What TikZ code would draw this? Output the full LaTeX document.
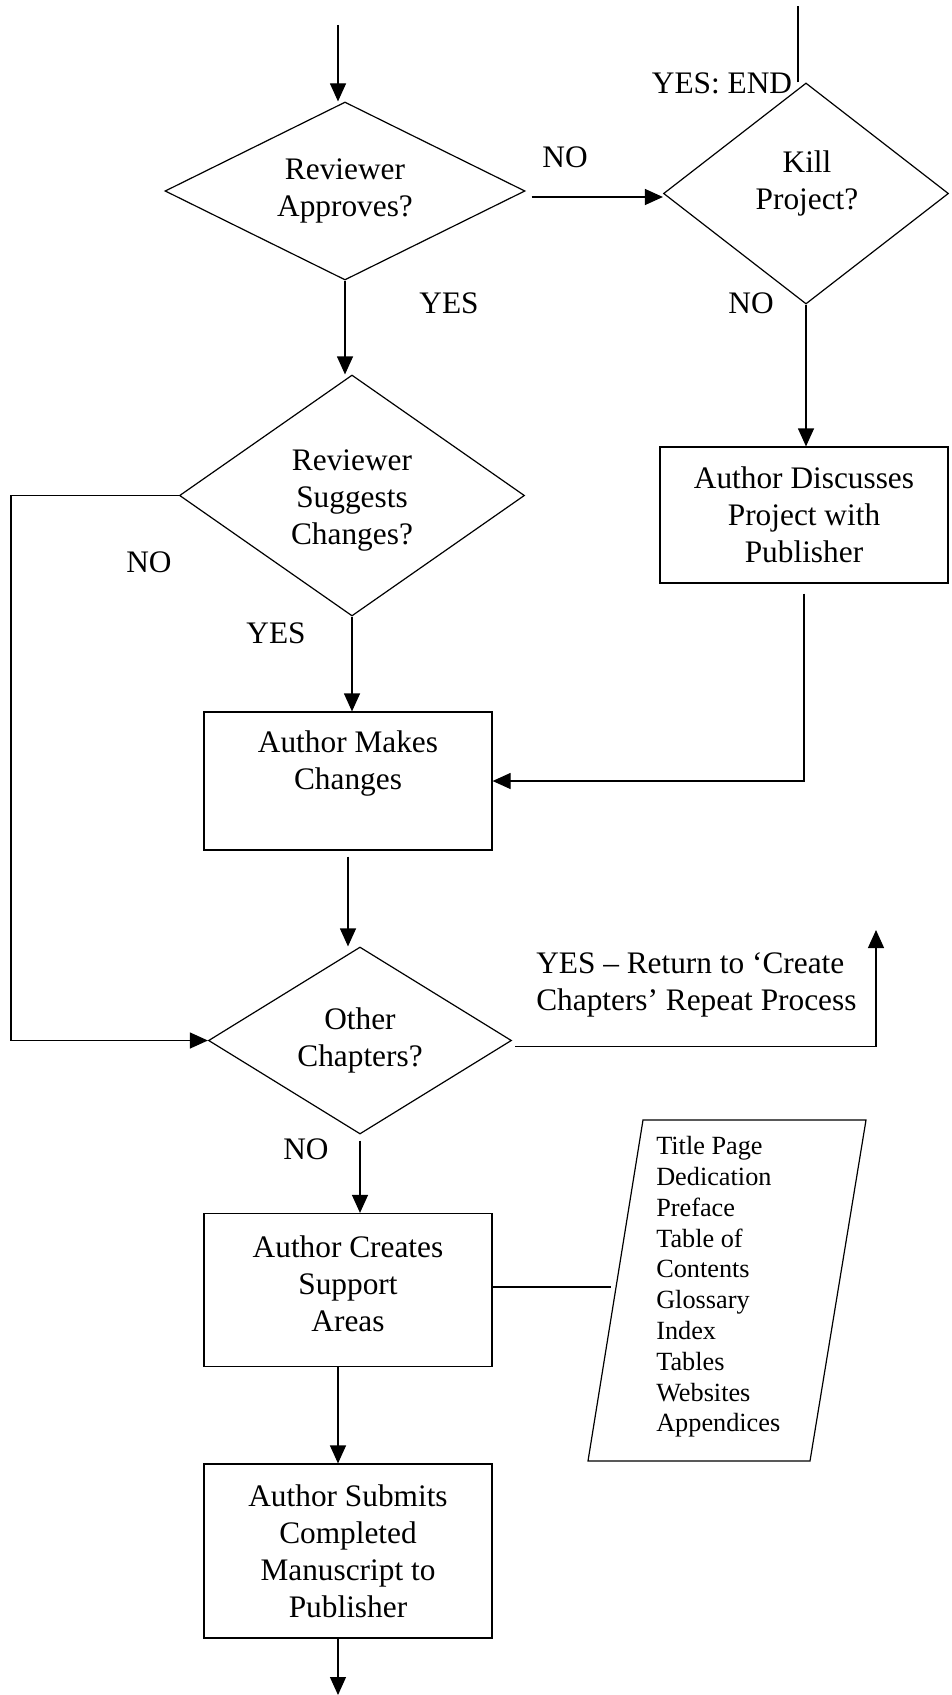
\documentclass[tikz,border=0pt]{standalone}
\usepackage{fontspec}
\setmainfont{Liberation Serif}
\usetikzlibrary{shapes.geometric,arrows.meta,calc}
\newcommand\mainfnt{\fontsize{23.5}{27.75}\selectfont}
\newcommand\listfnt{\fontsize{19.7}{23.1}\selectfont}
\begin{document}
\begin{tikzpicture}[x=0.75pt,y=-0.75pt,
  every node/.style={font=\mainfnt},
  decision/.style={draw, diamond, inner sep=0pt, align=center, line width=0.9pt},
  procbox/.style={draw, rectangle, inner sep=0pt, align=center, minimum width=216pt, line width=0.9pt},
  flowarrow/.style={line width=0.9pt, -{Triangle[length=13.5pt,width=12pt]}},
  plainline/.style={line width=0.9pt},
  tag/.style={inner sep=0pt}]
\useasboundingbox (0,0) rectangle (951,1695);

% decisions
\node[decision, aspect=2, minimum width=270pt, minimum height=133.5pt] (A) at (345,191) {Reviewer\\Approves?};
\node[decision, aspect=1.3, minimum width=213.75pt, minimum height=165.75pt] (K) at (806,193.5) {};
\node[tag, align=center] (Ktext) at (807,183.5) {Kill\\Project?};
\node[decision, aspect=1.4, minimum width=258.75pt, minimum height=180.75pt] (S) at (352,495.5) {};
\node[tag, align=center] (Stext) at (352,501) {Reviewer\\Suggests\\Changes?};
\node[decision, aspect=1.6, minimum width=227.25pt, minimum height=140.25pt] (O) at (360,1040.5) {Other\\Chapters?};

% process boxes
\node[procbox, minimum height=102pt] (D) at (804,515) {Author Discusses\\Project with\\Publisher};
\node[procbox, minimum height=103.5pt] (M) at (348,781) {};
\node[tag, align=center] (Mtext) at (348,764) {Author Makes\\Changes};
\node[procbox, minimum height=114.75pt] (C) at (348,1290) {};
\node[tag, align=center] (Ctext) at (348,1283.5) {Author Creates\\Support\\Areas};
\node[procbox, minimum height=130.5pt] (B) at (348,1551) {Author Submits\\Completed\\Manuscript to\\Publisher};

% parallelogram with list
\draw[plainline] (643,1120) -- (866,1120) -- (810,1461) -- (588,1461) -- cycle;
\node[tag, align=left, anchor=west, font=\listfnt] (list) at (656,1287)
  {Title Page\\Dedication\\Preface\\Table of\\Contents\\Glossary\\Index\\Tables\\Websites\\Appendices};
\coordinate (P) at (611,1287);
\draw[plainline] (C.east |- P) -- (P);

% connectors
\coordinate (start) at (338,25);
\draw[flowarrow] (start) -- (start |- A.north);
\coordinate (endtop) at (798,6);
\draw[plainline] (endtop |- K.north) -- (endtop);
\draw[flowarrow] (A.east) ++(6,6) coordinate (a1) -- (a1 -| K.west);
\draw[flowarrow] (A.south) -- (A.south |- S.north);
\draw[flowarrow] (K.south) -- (K.south |- D.north);
\coordinate (L) at (11,0);
\draw[flowarrow] (S.west) -- (S.west -| L) -- (L |- O.west) -- (O.west);
\draw[flowarrow] (S.south) -- (S.south |- M.north);
\draw[flowarrow] (D.south) ++(0,10) -- (D.south |- M.east) -- (M.east);
\draw[flowarrow] (M.south) ++(0,6) -- (M.south |- O.north);
\coordinate (ret) at (876,930);
\draw[flowarrow] (O.east) ++(3,6) -| (ret);
\draw[flowarrow] (O.south) ++(0,6) -- (O.south |- C.north);
\coordinate (cx) at (338,0);
\draw[flowarrow] (C.south -| cx) -- (cx |- B.north);
\coordinate (bot) at (338,1695);
\draw[flowarrow] (B.south -| bot) -- (bot);

% labels
\node[tag] (l1) at (565,157) {NO};
\node[tag] (l2) at (449,303) {YES};
\node[tag] (l3) at (751,303) {NO};
\node[tag] (l4) at (722,83) {YES: END};
\node[tag] (l5) at (149,562) {NO};
\node[tag] (l6) at (276,633) {YES};
\node[tag] (l7) at (306,1149) {NO};
\node[tag, align=left, anchor=west] (retlbl) at (536,985) {YES – Return to ‘Create\\Chapters’ Repeat Process};
\end{tikzpicture}
\end{document}
